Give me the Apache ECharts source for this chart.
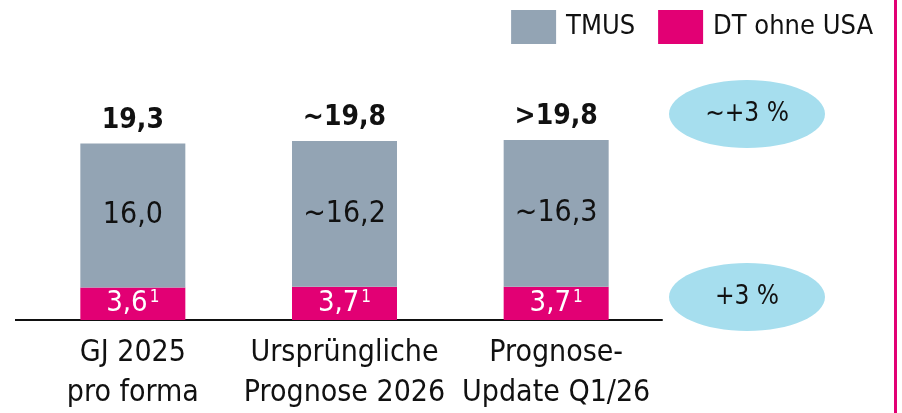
<!DOCTYPE html>
<html style="height: 100%">
<head>
<meta charset="utf-8">
<script src="https://cdn.jsdelivr.net/npm/echarts@6/dist/echarts.min.js"></script>
</head>
<body style="height: 100%; margin: 0; background: #fff">
<div id="container" style="width: 902px; height: 413px"></div>
<script type="text/javascript">
// data
var categories = ['GJ 2025\npro forma', 'Ursprüngliche\nPrognose 2026', 'Prognose-\nUpdate Q1/26'];
var tmus = [16.0, 16.2, 16.3];
var dtOhneUsa = [3.6, 3.7, 3.7];
var tmusLabels = ['16,0', '~16,2', '~16,3'];
var dtLabels = ['3,6', '3,7', '3,7'];
var totalLabels = ['19,3', '~19,8', '>19,8'];
var growthLabels = ['~+3 %', '+3 %'];

var FONT = "'Liberation Sans Narrow', 'DejaVu Sans Condensed', Roboto, sans-serif";
var GREY = '#93a4b4', PINK = '#e20074', BLUE = '#a6deee';

var myChart = echarts.init(document.getElementById('container'));

var option = {
    animation: false,
    textStyle: { fontFamily: FONT },
    legend: {
        data: ['TMUS', 'DT ohne USA'],
        right: 24,
        top: 5,
        icon: 'rect',
        itemWidth: 45,
        itemHeight: 34,
        itemGap: 23,
        textStyle: { fontFamily: FONT, fontSize: 27, color: '#111', padding: [0, 0, 0, 5] }
    },
    grid: { left: 27, right: 240, top: 140, bottom: 92 },
    xAxis: {
        type: 'category',
        data: categories,
        axisLine: { lineStyle: { color: '#111', width: 2 } },
        axisTick: { show: false },
        axisLabel: { fontFamily: FONT, fontSize: 30, color: '#111', lineHeight: 40, margin: 13, interval: 0 }
    },
    yAxis: { type: 'value', min: 0, max: 20, show: false, splitLine: { show: false } },
    series: [
        {
            name: 'DT ohne USA',
            type: 'bar',
            stack: 'ebitda',
            barWidth: 105,
            data: dtOhneUsa,
            itemStyle: { color: PINK },
            label: {
                show: true,
                position: 'inside',
                formatter: function (p) { return '{v|' + dtLabels[p.dataIndex] + '}{s|1}'; },
                rich: {
                    v: { fontFamily: FONT, fontSize: 29, color: '#fff' },
                    s: { fontFamily: FONT, fontSize: 17, color: '#fff', verticalAlign: 'top', padding: [0, 0, 9, 2] }
                }
            }
        },
        {
            name: 'TMUS',
            type: 'bar',
            stack: 'ebitda',
            barWidth: 105,
            data: tmus,
            itemStyle: { color: GREY },
            label: {
                show: true,
                position: 'inside',
                fontFamily: FONT,
                fontSize: 30,
                color: '#111',
                formatter: function (p) { return tmusLabels[p.dataIndex]; }
            }
        },
        {
            // invisible series carrying the total labels on top of the stack
            name: 'total',
            type: 'bar',
            stack: 'ebitda',
            barWidth: 105,
            data: [0, 0, 0],
            itemStyle: { color: 'transparent' },
            label: {
                show: true,
                position: 'top',
                distance: 9,
                fontFamily: FONT,
                fontSize: 28,
                fontWeight: 'bold',
                color: '#111',
                formatter: function (p) { return totalLabels[p.dataIndex]; }
            }
        }
    ],
    graphic: [
        { type: 'rect', shape: { x: 15, y: 319, width: 14, height: 2 }, style: { fill: '#111' } },
        { type: 'rect', shape: { x: 894, y: 0, width: 3, height: 413 }, style: { fill: PINK } },
        { type: 'ellipse', shape: { cx: 747, cy: 114, rx: 78, ry: 34 }, style: { fill: BLUE } },
        { type: 'text', x: 747, y: 114, style: { text: growthLabels[0], font: '26px ' + FONT, fill: '#111', align: 'center', verticalAlign: 'middle' } },
        { type: 'ellipse', shape: { cx: 747, cy: 297, rx: 78, ry: 34 }, style: { fill: BLUE } },
        { type: 'text', x: 747, y: 297, style: { text: growthLabels[1], font: '26px ' + FONT, fill: '#111', align: 'center', verticalAlign: 'middle' } }
    ]
};

myChart.setOption(option);
</script>
</body>
</html>
